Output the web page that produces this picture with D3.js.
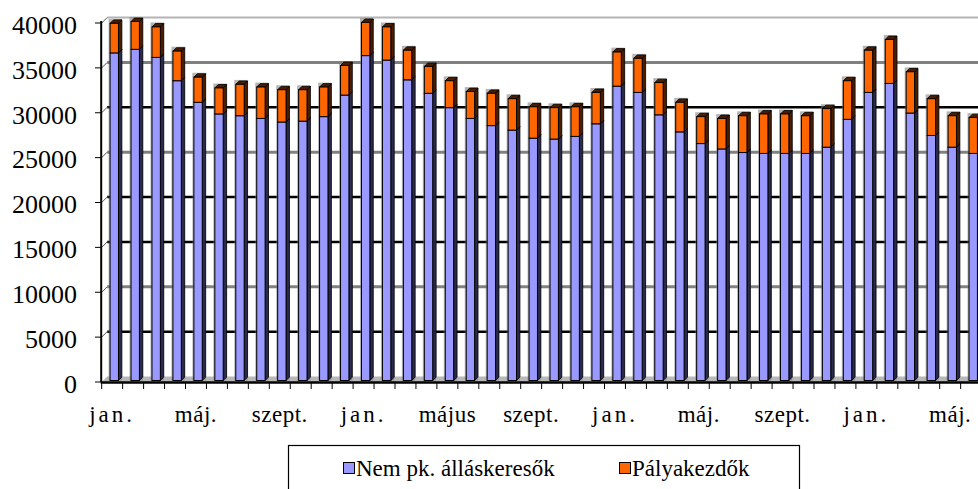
<!DOCTYPE html>
<html>
<head>
<script src="https://cdn.jsdelivr.net/npm/d3@7"></script>
<style>
  @font-face { font-family: 'ChartSerif'; src: local('Liberation Serif'), local('LiberationSerif'), local('LiberationSerif-Regular'); }
</style>
</head>
<body style="margin:0">
<div id="chart"></div>
<script>
// havi kategóriák (3,5 év, a jobb szélső oszlop le van vágva)
const categories = [
  'y1-01','y1-02','y1-03','y1-04','y1-05','y1-06','y1-07','y1-08','y1-09','y1-10','y1-11','y1-12',
  'y2-01','y2-02','y2-03','y2-04','y2-05','y2-06','y2-07','y2-08','y2-09','y2-10','y2-11','y2-12',
  'y3-01','y3-02','y3-03','y3-04','y3-05','y3-06','y3-07','y3-08','y3-09','y3-10','y3-11','y3-12',
  'y4-01','y4-02','y4-03','y4-04','y4-05','y4-06'
];
const tickLabels = ['jan.', 'máj.', 'szept.', 'jan.', 'május', 'szept.', 'jan.', 'máj.', 'szept.', 'jan.', 'máj.'];
const tickCategories = ['y1-01','y1-05','y1-09','y2-01','y2-05','y2-09','y3-01','y3-05','y3-09','y4-01','y4-05'];
const yTicks = [0, 5000, 10000, 15000, 20000, 25000, 30000, 35000, 40000];

const seriesNames = ['Nem pk. álláskeresők', 'Pályakezdők'];
const nemPk = [36500,36900,36000,33400,31000,29700,29500,29200,28800,28900,29400,31800,
               36200,35700,33500,32000,30400,29200,28400,27900,27000,26900,27200,28600,
               32800,32100,29600,27700,26400,25800,25400,25300,25300,25300,26000,29100,
               32100,33100,29800,27300,26000,25300];
const palyakezdok = [3300,3100,3400,3300,2800,2900,3500,3500,3600,3500,3300,3300,
                     3700,3700,3300,3000,3000,3000,3600,3500,3500,3500,3300,3500,
                     3800,3800,3600,3300,3000,3400,4100,4400,4400,4200,4300,4300,
                     4700,4900,4600,4100,3500,4000];

const width = 978, height = 489;
const depth = 3.4;      // oszlopok 3D mélysége
const wallShift = 5.5;  // hátfal eltolása
const FONT = "'Liberation Serif', ChartSerif, Tinos, 'Times New Roman', 'Nimbus Roman', FreeSerif, serif";

const front = ['#9999ff', '#ff6600'];
const side = ['#2a2a4c', '#4a1d00'];

const svg = d3.select('#chart').append('svg')
  .attr('width', width)
  .attr('height', height)
  .attr('font-family', 'Liberation Serif')
  .style('display', 'block');

const x = d3.scaleBand().domain(categories).range([101.7, 981.6]);
const y = d3.scaleLinear().domain([0, 40000]).range([382, 23]);
const yBar = v => y(v) - 1.5;

// Rácsvonalak a hátfalon
const gridStyle = {
  40000: ['#b4b4b4', 2], 35000: ['#808080', 3], 30000: ['#000', 2.5], 25000: ['#808080', 3],
  20000: ['#000', 2.5], 15000: ['#000', 2.5], 10000: ['#808080', 3], 5000: ['#000', 2.5]
};
const grid = svg.append('g');
// padló
grid.append('path')
  .attr('d', `M${x.range()[0]},${y(0)}L${x.range()[1]},${y(0)}L${x.range()[1] + wallShift},${y(0) - wallShift}L${x.range()[0] + wallShift},${y(0) - wallShift}Z`)
  .attr('fill', '#b8b8b8');
yTicks.filter(v => v > 0).forEach(v => {
  const [c, w] = gridStyle[v];
  grid.append('line')
    .attr('x1', x.range()[0] + wallShift).attr('x2', width)
    .attr('y1', y(v) - wallShift).attr('y2', y(v) - wallShift)
    .attr('stroke', c).attr('stroke-width', w);
  grid.append('line')
    .attr('x1', x.range()[0]).attr('x2', x.range()[0] + wallShift)
    .attr('y1', y(v)).attr('y2', y(v) - wallShift)
    .attr('stroke', '#555').attr('stroke-width', 1);
});

// Halmozott oszlopok
const table = categories.map((c, i) => ({ cat: c, a: nemPk[i], b: palyakezdok[i] }));
const stacked = d3.stack().keys(['a', 'b'])(table);

const bw = x.bandwidth();
const fx = c => x(c) + bw * 0.4;
const fw = bw * 0.4;

const bars = svg.append('g');
table.forEach((row, i) => {
  const g = bars.append('g');
  const x0 = fx(row.cat);
  const top = yBar(stacked[1][i][1]);
  // szürke árnyék
  g.append('rect')
    .attr('x', x0 - 1.5).attr('y', top - depth - 1)
    .attr('width', fw + depth + 1.5).attr('height', yBar(0) - top + depth + 1)
    .attr('fill', '#7a7a7a').attr('opacity', 0.55);
  stacked.forEach((s, k) => {
    const y1 = yBar(s[i][1]);
    const y0 = yBar(s[i][0]);
    g.append('path')
      .attr('d', `M${x0 + fw},${y1}L${x0 + fw + depth},${y1 - depth}L${x0 + fw + depth},${y0 - depth}L${x0 + fw},${y0}Z`)
      .attr('fill', side[k]).attr('stroke', '#000').attr('stroke-width', 0.8);
    g.append('path')
      .attr('d', `M${x0},${y1}L${x0 + depth},${y1 - depth}L${x0 + fw + depth},${y1 - depth}L${x0 + fw},${y1}Z`)
      .attr('fill', side[k]).attr('stroke', '#000').attr('stroke-width', 0.8);
    g.append('rect')
      .attr('x', x0).attr('y', y1)
      .attr('width', fw).attr('height', y0 - y1)
      .attr('fill', front[k]).attr('stroke', '#000').attr('stroke-width', 1);
  });
});

// Y tengely
const yAxis = svg.append('g');
yAxis.append('line')
  .attr('x1', x.range()[0] - 0.5).attr('x2', x.range()[0] - 0.5)
  .attr('y1', y(40000) - 2).attr('y2', y(0))
  .attr('stroke', '#000').attr('stroke-width', 2);
yTicks.forEach(v => {
  yAxis.append('line')
    .attr('x1', 95).attr('x2', x.range()[0])
    .attr('y1', y(v)).attr('y2', y(v))
    .attr('stroke', '#000').attr('stroke-width', 1);
  yAxis.append('text')
    .attr('x', 77).attr('y', y(v) + 2)
    .attr('dy', '0.34em')
    .attr('text-anchor', 'end')
    .attr('font-size', 26)
    .attr('font-family', 'Liberation Serif')
    .style('font-family', FONT)
    .text(String(v));
});

// X tengely
const xAxis = svg.append('g');
xAxis.append('line')
  .attr('x1', x.range()[0] - 1).attr('x2', width)
  .attr('y1', y(0) + 0.5).attr('y2', y(0) + 0.5)
  .attr('stroke', '#000').attr('stroke-width', 2.5);
categories.forEach(c => {
  xAxis.append('line')
    .attr('x1', x(c)).attr('x2', x(c))
    .attr('y1', y(0)).attr('y2', y(0) + 7)
    .attr('stroke', '#000').attr('stroke-width', 1);
});
tickLabels.forEach((t, i) => {
  xAxis.append('text')
    .attr('x', x(tickCategories[i]) + bw / 2)
    .attr('y', 422)
    .attr('text-anchor', 'middle')
    .attr('font-size', 23)
    .attr('letter-spacing', t === 'jan.' ? 3 : 0.5)
    .attr('font-family', 'Liberation Serif')
    .style('font-family', FONT)
    .text(t);
});

// Jelmagyarázat
const legend = svg.append('g');
legend.append('rect')
  .attr('x', 288.5).attr('y', 445.5)
  .attr('width', 511).attr('height', 80)
  .attr('fill', '#fff').attr('stroke', '#000').attr('stroke-width', 1.2);
const legendX = [343, 619];
seriesNames.forEach((name, k) => {
  legend.append('rect')
    .attr('x', legendX[k] + 0.5).attr('y', 462.5)
    .attr('width', 11).attr('height', 11)
    .attr('fill', front[k]).attr('stroke', '#000').attr('stroke-width', 1);
  legend.append('text')
    .attr('x', legendX[k] + 13).attr('y', 476)
    .attr('font-size', 23)
    .attr('font-family', 'Liberation Serif')
    .style('font-family', FONT)
    .text(name);
});
</script>
</body>
</html>
